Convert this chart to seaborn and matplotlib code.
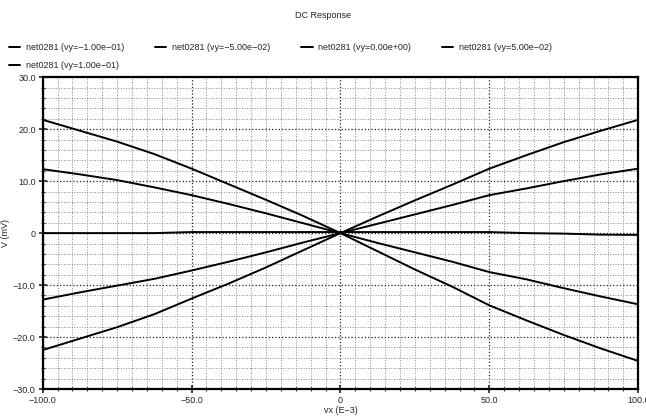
import pandas as pd
import matplotlib
matplotlib.use("Agg")
import matplotlib.pyplot as plt
import seaborn as sns
from matplotlib.ticker import MultipleLocator, FixedLocator, FixedFormatter

# DC sweep data (vx in E-3, V in mV)
vx = [-100, -87.5, -75, -62.5, -50, -37.5, -25, -12.5, 0,
      12.5, 25, 37.5, 50, 62.5, 75, 87.5, 100]

v_vy_m100 = [21.8, 19.7, 17.6, 15.2, 12.4, 9.4, 6.4, 3.3, 0.0,
             -3.5, -7.0, -10.3, -13.9, -16.8, -19.6, -22.2, -24.6]
v_vy_m050 = [12.3, 11.3, 10.2, 8.8, 7.3, 5.6, 3.8, 1.9, 0.0,
             -1.9, -3.7, -5.5, -7.5, -8.9, -10.6, -12.2, -13.7]
v_vy_000 = [0.0, 0.0, 0.0, 0.0, 0.2, 0.2, 0.2, 0.2, 0.2,
            0.2, 0.2, 0.2, 0.2, 0.0, -0.1, -0.3, -0.35]
v_vy_p050 = [-12.8, -11.4, -10.1, -8.8, -7.2, -5.5, -3.7, -1.8, 0.0,
             1.8, 3.6, 5.4, 7.3, 8.6, 10.0, 11.3, 12.4]
v_vy_p100 = [-22.5, -20.3, -18.1, -15.6, -12.6, -9.7, -6.6, -3.3, 0.0,
             3.2, 6.3, 9.3, 12.4, 15.0, 17.5, 19.7, 21.8]

series_labels = ["net0281 (vy=\u22121.00e\u221201)",
                 "net0281 (vy=\u22125.00e\u221202)",
                 "net0281 (vy=0.00e+00)",
                 "net0281 (vy=5.00e\u221202)",
                 "net0281 (vy=1.00e\u221201)"]
series_values = [v_vy_m100, v_vy_m050, v_vy_000, v_vy_p050, v_vy_p100]

y_ticks = [-30, -20, -10, 0, 10, 20, 30]
y_tick_labels = ["\u221230.0", "\u221220.0", "\u221210.0", "0", "10.0", "20.0", "30.0"]
x_ticks = [-100, -50, 0, 50, 100]
x_tick_labels = ["\u2212100.0", "\u221250.0", "0", "50.0", "100.0"]

rows = []
for lab, vals in zip(series_labels, series_values):
    for x, y in zip(vx, vals):
        rows.append({"vx": x, "V": y, "net": lab})
df = pd.DataFrame(rows)

sns.set_style("ticks")
plt.rcParams['font.family'] = ['Liberation Sans', 'DejaVu Sans']

fig = plt.figure(figsize=(6.46, 4.17), dpi=100)
ax = fig.add_axes([0.066, 0.067, 0.922, 0.748])

sns.lineplot(data=df, x="vx", y="V", hue="net", hue_order=series_labels,
             palette=["black"] * 5, linewidth=1.4, legend=False, ax=ax)

ax.set_xlim(-100, 100)
ax.set_ylim(-30, 30)

ax.xaxis.set_major_locator(FixedLocator(x_ticks))
ax.xaxis.set_major_formatter(FixedFormatter(x_tick_labels))
ax.yaxis.set_major_locator(FixedLocator(y_ticks))
ax.yaxis.set_major_formatter(FixedFormatter(y_tick_labels))
ax.xaxis.set_minor_locator(MultipleLocator(5))
ax.yaxis.set_minor_locator(MultipleLocator(2))

ax.grid(which="major", linestyle=":", color="#222222", linewidth=0.9)
ax.grid(which="minor", linestyle=":", color="#888888", linewidth=0.7)
ax.set_axisbelow(True)

for s in ax.spines.values():
    s.set_linewidth(1.6)
    s.set_color("black")

ax.tick_params(which="major", direction="inout", length=6, width=1.2,
               labelsize=6.5, pad=2)
ax.tick_params(which="minor", direction="inout", length=3, width=0.8)

ax.set_xlabel("vx (E\u22123)", fontsize=6.5, labelpad=1)
ax.set_ylabel("V (mV)", fontsize=6.5, labelpad=2)

fig.text(0.5, 0.962, "DC Response", ha="center", va="center", fontsize=6.5)

# legend is filled column-wise; reorder so it reads row-wise like the reference
lines = ax.get_lines()[:5]
order = [0, 4, 1, 2, 3]
fig.legend([lines[i] for i in order], [series_labels[i] for i in order],
           loc="upper left", bbox_to_anchor=(0.005, 0.91),
           ncol=4, fontsize=6.5, frameon=False, handlelength=1.3,
           handletextpad=0.6, columnspacing=3.4, labelspacing=1.0,
           borderaxespad=0.2)

fig.savefig("out.png", dpi=100)
